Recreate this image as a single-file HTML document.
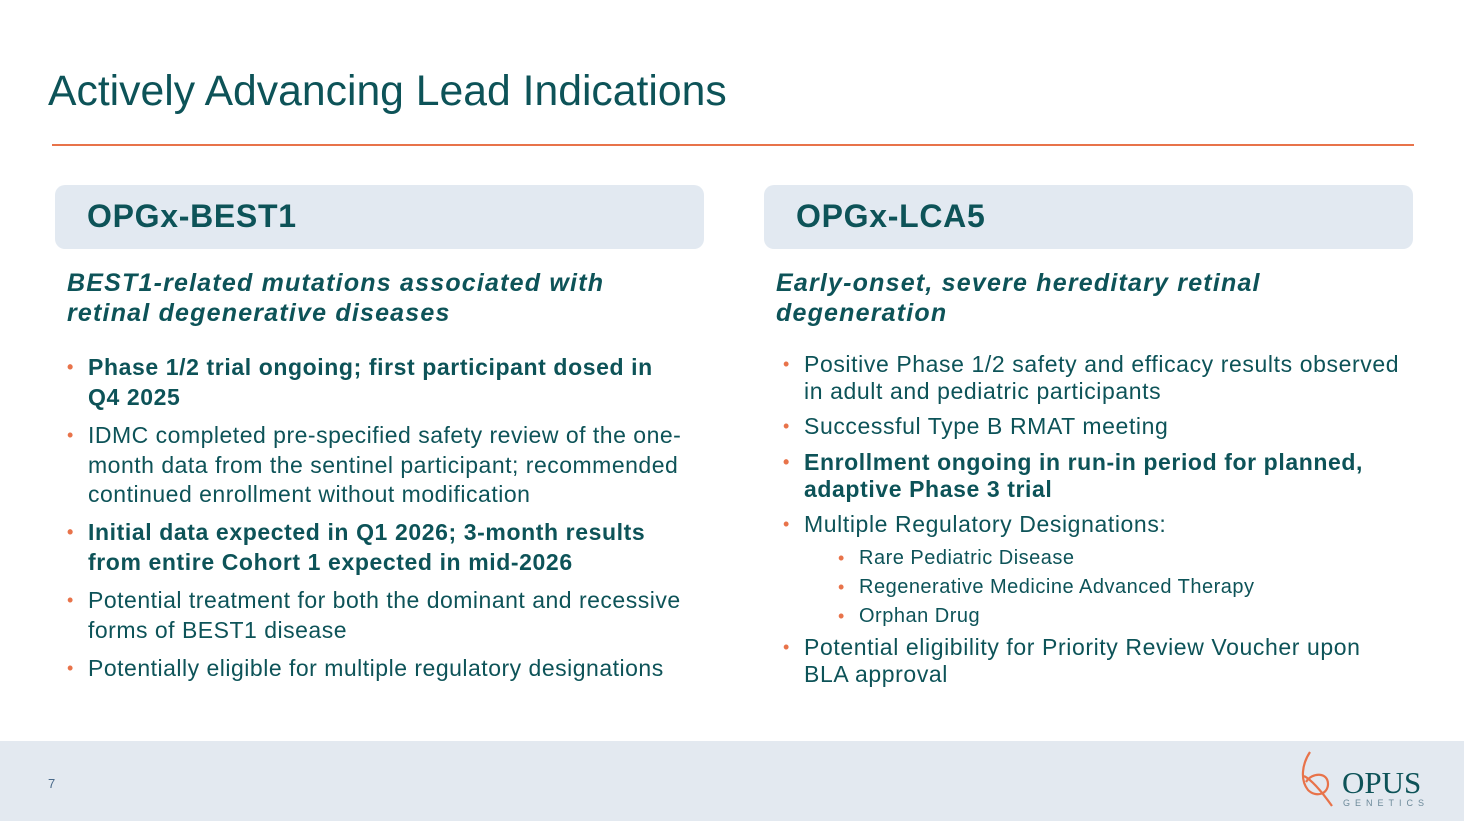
<!DOCTYPE html>
<html><head><meta charset="utf-8"><style>
body{margin:0;width:1464px;height:821px;position:relative;background:#fff;font-family:"Liberation Sans",Arial,sans-serif;color:#0d5358;overflow:hidden}
.a{position:absolute;white-space:nowrap}
.box{position:absolute;top:185px;height:64px;background:#e2e9f1;border-radius:10px}
.box span{position:absolute;left:32px;top:13px;font-size:32px;font-weight:bold;letter-spacing:0.7px}
.sub{font-size:25px;font-weight:bold;font-style:italic;line-height:30px;letter-spacing:1.2px}
.b{position:absolute;font-size:23px;line-height:29.5px;white-space:nowrap;letter-spacing:0.5px}
.b::before{content:"•";position:absolute;left:-21px;color:#e8734a;font-size:18px}
.r{line-height:27px;letter-spacing:0.6px}
.s{font-size:20px;line-height:29px;letter-spacing:0.5px}
.bo{font-weight:bold;letter-spacing:0.6px}
</style></head><body>
<div class="a" style="left:48px;top:67px;font-size:42.7px">Actively Advancing Lead Indications</div>
<div class="a" style="left:52px;top:144px;width:1362px;height:2px;background:#e8734a"></div>
<div class="box" style="left:55px;width:649px"><span>OPGx-BEST1</span></div>
<div class="box" style="left:764px;width:649px"><span>OPGx-LCA5</span></div>
<div class="a sub" style="left:67px;top:268px">BEST1-related mutations associated with<br>retinal degenerative diseases</div>
<div class="a sub" style="left:776px;top:268px">Early-onset, severe hereditary retinal<br>degeneration</div>

<div class="b bo" style="left:88px;top:353px">Phase 1/2 trial ongoing; first participant dosed in<br>Q4 2025</div>
<div class="b" style="left:88px;top:421px">IDMC completed pre-specified safety review of the one-<br>month data from the sentinel participant; recommended<br>continued enrollment without modification</div>
<div class="b bo" style="left:88px;top:518px">Initial data expected in Q1 2026; 3-month results<br>from entire Cohort 1 expected in mid-2026</div>
<div class="b" style="left:88px;top:586px">Potential treatment for both the dominant and recessive<br>forms of BEST1 disease</div>
<div class="b" style="left:88px;top:654px">Potentially eligible for multiple regulatory designations</div>

<div class="b r" style="left:804px;top:351px">Positive Phase 1/2 safety and efficacy results observed<br>in adult and pediatric participants</div>
<div class="b r" style="left:804px;top:413px">Successful Type B RMAT meeting</div>
<div class="b r bo" style="left:804px;top:449px">Enrollment ongoing in run-in period for planned,<br>adaptive Phase 3 trial</div>
<div class="b r" style="left:804px;top:511px">Multiple Regulatory Designations:</div>
<div class="b s" style="left:859px;top:544px">Rare Pediatric Disease</div>
<div class="b s" style="left:859px;top:573px">Regenerative Medicine Advanced Therapy</div>
<div class="b s" style="left:859px;top:602px">Orphan Drug</div>
<div class="b r" style="left:804px;top:634px">Potential eligibility for Priority Review Voucher upon<br>BLA approval</div>

<div class="a" style="left:0;top:741px;width:1464px;height:80px;background:#e3e9f0"></div>
<div class="a" style="left:48px;top:776px;font-size:13px;color:#4a6a8a">7</div>
<svg class="a" style="left:1298px;top:750px" width="40" height="60" viewBox="0 0 40 60"><g fill="none" stroke="#e8734a" stroke-width="2.2"><path d="M12 2 C4 14 2 30 10 40 C18 48 30 44 30 34 C30 22 14 22 8 32"/><path d="M6 26 C14 30 24 42 34 56"/></g></svg>
<div class="a" style="left:1342px;top:765px;font-size:31px;font-family:'Liberation Serif',serif;color:#0d5358">OPUS</div>
<div class="a" style="left:1343px;top:798px;font-size:9px;letter-spacing:5px;color:#6d8a9a">GENETICS</div>
</body></html>
